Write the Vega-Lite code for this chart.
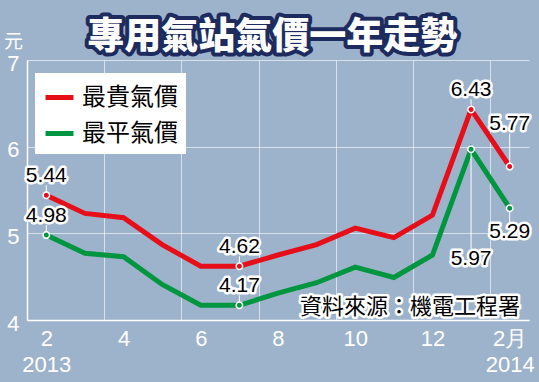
{
  "$schema": "https://vega.github.io/schema/vega-lite/v6.json",
  "width": 502,
  "height": 260,
  "autosize": {"type": "none"},
  "padding": {"left": 27, "top": 60, "right": 10, "bottom": 62},
  "background": "#9db3cb",
  "config": {
    "view": {"stroke": null},
    "font": "Liberation Sans",
    "legend": {
      "orient": "none",
      "legendX": 8,
      "legendY": 13,
      "fillColor": "#ffffff",
      "padding": 8,
      "symbolType": "stroke",
      "symbolStrokeWidth": 5,
      "symbolSize": 784,
      "labelFontSize": 24,
      "labelColor": "#000000",
      "labelFont": "Noto Sans CJK TC",
      "labelOffset": 6,
      "rowPadding": 7,
      "title": null
    }
  },
  "datasets": {
    "prices": [
      {"m": 0, "series": "最貴氣價", "v": 5.44},
      {"m": 1, "series": "最貴氣價", "v": 5.23},
      {"m": 2, "series": "最貴氣價", "v": 5.18},
      {"m": 3, "series": "最貴氣價", "v": 4.87},
      {"m": 4, "series": "最貴氣價", "v": 4.62},
      {"m": 5, "series": "最貴氣價", "v": 4.62},
      {"m": 6, "series": "最貴氣價", "v": 4.75},
      {"m": 7, "series": "最貴氣價", "v": 4.87},
      {"m": 8, "series": "最貴氣價", "v": 5.06},
      {"m": 9, "series": "最貴氣價", "v": 4.95},
      {"m": 10, "series": "最貴氣價", "v": 5.21},
      {"m": 11, "series": "最貴氣價", "v": 6.43},
      {"m": 12, "series": "最貴氣價", "v": 5.77},
      {"m": 0, "series": "最平氣價", "v": 4.98},
      {"m": 1, "series": "最平氣價", "v": 4.77},
      {"m": 2, "series": "最平氣價", "v": 4.73},
      {"m": 3, "series": "最平氣價", "v": 4.41},
      {"m": 4, "series": "最平氣價", "v": 4.17},
      {"m": 5, "series": "最平氣價", "v": 4.17},
      {"m": 6, "series": "最平氣價", "v": 4.31},
      {"m": 7, "series": "最平氣價", "v": 4.43},
      {"m": 8, "series": "最平氣價", "v": 4.61},
      {"m": 9, "series": "最平氣價", "v": 4.49},
      {"m": 10, "series": "最平氣價", "v": 4.75},
      {"m": 11, "series": "最平氣價", "v": 5.97},
      {"m": 12, "series": "最平氣價", "v": 5.29}
    ],
    "labels": [
      {"m": 0, "series": "最貴氣價", "v": 5.44, "pos": "above"},
      {"m": 0, "series": "最平氣價", "v": 4.98, "pos": "above"},
      {"m": 5, "series": "最貴氣價", "v": 4.62, "pos": "above"},
      {"m": 5, "series": "最平氣價", "v": 4.17, "pos": "above"},
      {"m": 11, "series": "最貴氣價", "v": 6.43, "pos": "above"},
      {"m": 12, "series": "最貴氣價", "v": 5.77, "pos": "farabove"},
      {"m": 12, "series": "最平氣價", "v": 5.29, "pos": "below"},
      {"m": 11, "series": "最平氣價", "v": 5.97, "pos": "farbelow"}
    ]
  },
  "layer": [
    {
      "data": {"name": "prices"},
      "mark": {"type": "line", "strokeWidth": 5, "strokeJoin": "miter"},
      "encoding": {
        "x": {
          "field": "m",
          "type": "quantitative",
          "scale": {"domain": [-0.5, 12.5], "nice": false, "zero": false},
          "axis": {
            "values": [-0.5, 0.5, 1.5, 2.5, 3.5, 4.5, 5.5, 6.5, 7.5, 8.5, 9.5, 10.5, 11.5, 12.5],
            "grid": true,
            "gridColor": "#ffffff",
            "gridOpacity": 0.6,
            "domainColor": "#ffffff",
            "domainWidth": 1.5,
            "ticks": false,
            "labelOffset": 19.3,
            "labelExpr": "(datum.value + 0.5) % 2 != 0 ? '' : ((datum.value + 0.5) == 0 ? ['2', '2013'] : ((datum.value + 0.5) == 12 ? ['2月', '2014'] : '' + ((datum.value + 1.5) % 12 + 1)))",
            "labelColor": "#ffffff",
            "labelFontSize": 22,
            "labelPadding": 8,
            "labelFlush": false,
            "labelOverlap": false,
            "labelLineHeight": 26,
            "labelBaseline": "top",
            "title": null
          }
        },
        "y": {
          "field": "v",
          "type": "quantitative",
          "scale": {"domain": [4, 7], "nice": false, "zero": false},
          "axis": {
            "values": [4, 5, 6, 7],
            "format": "d",
            "grid": true,
            "gridColor": "#ffffff",
            "gridOpacity": 0.6,
            "domainColor": "#ffffff",
            "domainWidth": 1.5,
            "ticks": false,
            "labelColor": "#ffffff",
            "labelFontSize": 22,
            "labelPadding": 8,
            "labelFlush": false,
            "labelOffset": 3,
            "title": "元",
            "titleAngle": 0,
            "titleX": -14,
            "titleY": -19,
            "titleAlign": "center",
            "titleBaseline": "middle",
            "titleColor": "#ffffff",
            "titleFontSize": 19,
            "titleFontWeight": "normal",
            "titleFont": "Noto Sans CJK TC"
          }
        },
        "color": {
          "field": "series",
          "type": "nominal",
          "scale": {"domain": ["最貴氣價", "最平氣價"], "range": ["#e60f19", "#00963f"]},
          "legend": {"orient": "none", "legendX": 8, "legendY": 13, "symbolType": "stroke", "title": null}
        }
      }
    },
    {
      "data": {"name": "labels"},
      "transform": [{"filter": "datum.pos == 'above'"}],
      "mark": {"type": "rule", "color": "#ffffff", "strokeWidth": 1, "y2Offset": -10},
      "encoding": {
        "x": {"field": "m", "type": "quantitative"},
        "y": {"field": "v", "type": "quantitative"},
        "y2": {"field": "v"}
      }
    },
    {
      "data": {"name": "labels"},
      "transform": [{"filter": "datum.pos == 'farabove'"}],
      "mark": {"type": "rule", "color": "#ffffff", "strokeWidth": 1, "y2Offset": -33},
      "encoding": {
        "x": {"field": "m", "type": "quantitative"},
        "y": {"field": "v", "type": "quantitative"},
        "y2": {"field": "v"}
      }
    },
    {
      "data": {"name": "labels"},
      "transform": [{"filter": "datum.pos == 'below'"}],
      "mark": {"type": "rule", "color": "#ffffff", "strokeWidth": 1, "y2Offset": 14},
      "encoding": {
        "x": {"field": "m", "type": "quantitative"},
        "y": {"field": "v", "type": "quantitative"},
        "y2": {"field": "v"}
      }
    },
    {
      "data": {"name": "labels"},
      "transform": [{"filter": "datum.pos == 'farbelow'"}],
      "mark": {"type": "rule", "color": "#ffffff", "strokeWidth": 1, "y2Offset": 100},
      "encoding": {
        "x": {"field": "m", "type": "quantitative"},
        "y": {"field": "v", "type": "quantitative"},
        "y2": {"field": "v"}
      }
    },
    {
      "data": {"name": "labels"},
      "mark": {"type": "point", "filled": true, "size": 42, "stroke": "#ffffff", "strokeWidth": 1.5, "opacity": 1},
      "encoding": {
        "x": {"field": "m", "type": "quantitative"},
        "y": {"field": "v", "type": "quantitative"},
        "color": {"field": "series", "type": "nominal"},
        "stroke": {"value": "#ffffff"}
      }
    },
    {
      "data": {"name": "labels"},
      "transform": [{"filter": "datum.pos == 'above'"}],
      "mark": {"type": "text", "fontSize": 21, "dy": -19, "baseline": "middle", "align": "center", "fill": "#ffffff", "stroke": "#ffffff", "strokeWidth": 5, "strokeJoin": "round"},
      "encoding": {
        "x": {"field": "m", "type": "quantitative"},
        "y": {"field": "v", "type": "quantitative"},
        "text": {"field": "v", "type": "quantitative", "format": ".2f"}
      }
    },
    {
      "data": {"name": "labels"},
      "transform": [{"filter": "datum.pos == 'above'"}],
      "mark": {"type": "text", "fontSize": 21, "dy": -19, "baseline": "middle", "align": "center", "fill": "#000000"},
      "encoding": {
        "x": {"field": "m", "type": "quantitative"},
        "y": {"field": "v", "type": "quantitative"},
        "text": {"field": "v", "type": "quantitative", "format": ".2f"}
      }
    },
    {
      "data": {"name": "labels"},
      "transform": [{"filter": "datum.pos == 'farabove'"}],
      "mark": {"type": "text", "fontSize": 21, "dy": -43, "baseline": "middle", "align": "center", "fill": "#ffffff", "stroke": "#ffffff", "strokeWidth": 5, "strokeJoin": "round"},
      "encoding": {
        "x": {"field": "m", "type": "quantitative"},
        "y": {"field": "v", "type": "quantitative"},
        "text": {"field": "v", "type": "quantitative", "format": ".2f"}
      }
    },
    {
      "data": {"name": "labels"},
      "transform": [{"filter": "datum.pos == 'farabove'"}],
      "mark": {"type": "text", "fontSize": 21, "dy": -43, "baseline": "middle", "align": "center", "fill": "#000000"},
      "encoding": {
        "x": {"field": "m", "type": "quantitative"},
        "y": {"field": "v", "type": "quantitative"},
        "text": {"field": "v", "type": "quantitative", "format": ".2f"}
      }
    },
    {
      "data": {"name": "labels"},
      "transform": [{"filter": "datum.pos == 'below'"}],
      "mark": {"type": "text", "fontSize": 21, "dy": 24, "baseline": "middle", "align": "center", "fill": "#ffffff", "stroke": "#ffffff", "strokeWidth": 5, "strokeJoin": "round"},
      "encoding": {
        "x": {"field": "m", "type": "quantitative"},
        "y": {"field": "v", "type": "quantitative"},
        "text": {"field": "v", "type": "quantitative", "format": ".2f"}
      }
    },
    {
      "data": {"name": "labels"},
      "transform": [{"filter": "datum.pos == 'below'"}],
      "mark": {"type": "text", "fontSize": 21, "dy": 24, "baseline": "middle", "align": "center", "fill": "#000000"},
      "encoding": {
        "x": {"field": "m", "type": "quantitative"},
        "y": {"field": "v", "type": "quantitative"},
        "text": {"field": "v", "type": "quantitative", "format": ".2f"}
      }
    },
    {
      "data": {"name": "labels"},
      "transform": [{"filter": "datum.pos == 'farbelow'"}],
      "mark": {"type": "text", "fontSize": 21, "dy": 110, "baseline": "middle", "align": "center", "fill": "#ffffff", "stroke": "#ffffff", "strokeWidth": 5, "strokeJoin": "round"},
      "encoding": {
        "x": {"field": "m", "type": "quantitative"},
        "y": {"field": "v", "type": "quantitative"},
        "text": {"field": "v", "type": "quantitative", "format": ".2f"}
      }
    },
    {
      "data": {"name": "labels"},
      "transform": [{"filter": "datum.pos == 'farbelow'"}],
      "mark": {"type": "text", "fontSize": 21, "dy": 110, "baseline": "middle", "align": "center", "fill": "#000000"},
      "encoding": {
        "x": {"field": "m", "type": "quantitative"},
        "y": {"field": "v", "type": "quantitative"},
        "text": {"field": "v", "type": "quantitative", "format": ".2f"}
      }
    },
    {
      "data": {"values": [{"t": "資料來源：機電工程署"}]},
      "mark": {"type": "text", "font": "Noto Sans CJK TC", "fontSize": 22, "baseline": "middle", "align": "center", "fill": "#ffffff", "stroke": "#ffffff", "strokeWidth": 5, "strokeJoin": "round"},
      "encoding": {
        "x": {"datum": 9.42, "type": "quantitative"},
        "y": {"datum": 4.15, "type": "quantitative"},
        "text": {"field": "t"}
      }
    },
    {
      "data": {"values": [{"t": "資料來源：機電工程署"}]},
      "mark": {"type": "text", "font": "Noto Sans CJK TC", "fontSize": 22, "baseline": "middle", "align": "center", "fill": "#000000"},
      "encoding": {
        "x": {"datum": 9.42, "type": "quantitative"},
        "y": {"datum": 4.15, "type": "quantitative"},
        "text": {"field": "t"}
      }
    },
    {
      "data": {"values": [{"t": "專用氣站氣價一年走勢"}]},
      "mark": {"type": "text", "font": "Noto Sans CJK TC", "fontSize": 37, "fontWeight": 900, "baseline": "middle", "align": "center", "fill": "#1d2b5e", "stroke": "#1d2b5e", "strokeWidth": 8, "strokeJoin": "round"},
      "encoding": {
        "x": {"datum": 5.85, "type": "quantitative"},
        "y": {"datum": 7.254, "type": "quantitative"},
        "text": {"field": "t"}
      }
    },
    {
      "data": {"values": [{"t": "專用氣站氣價一年走勢"}]},
      "mark": {"type": "text", "font": "Noto Sans CJK TC", "fontSize": 37, "fontWeight": 900, "baseline": "middle", "align": "center", "fill": "#ffffff"},
      "encoding": {
        "x": {"datum": 5.85, "type": "quantitative"},
        "y": {"datum": 7.254, "type": "quantitative"},
        "text": {"field": "t"}
      }
    }
  ]
}
